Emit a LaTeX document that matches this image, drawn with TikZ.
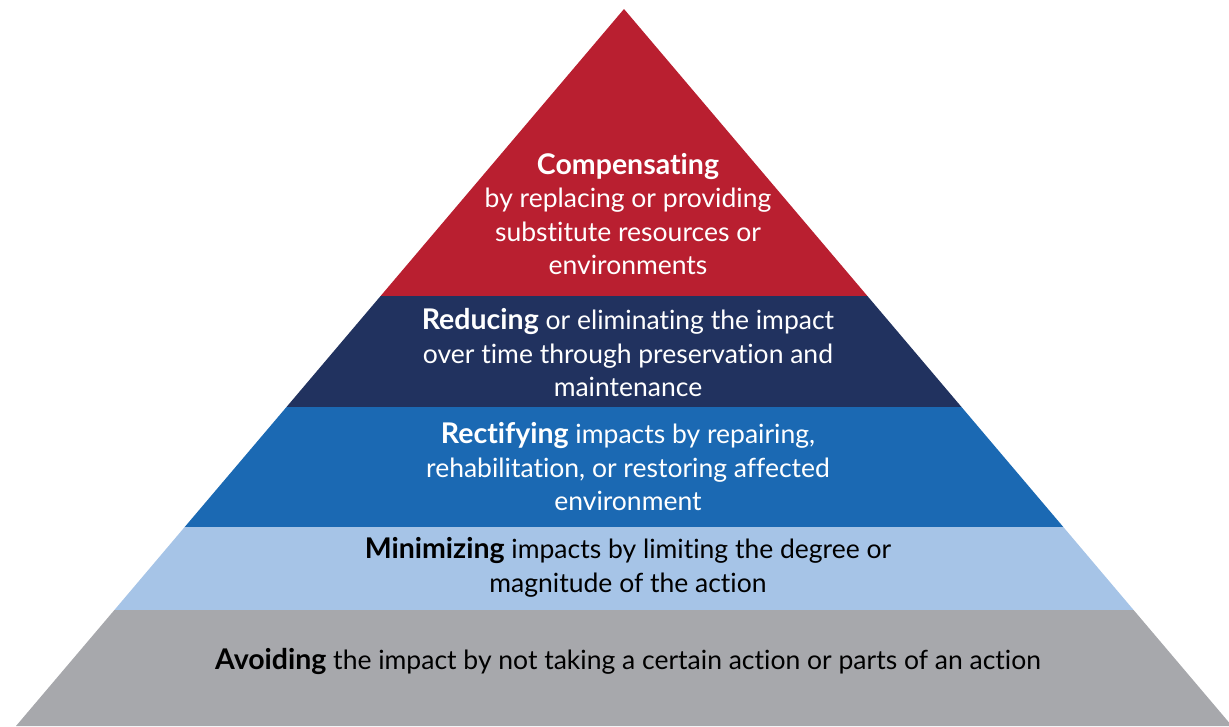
\documentclass[tikz,border=0pt]{standalone}
\usepackage{fontspec}
\setmainfont[Ligatures={NoCommon}]{Lato}
\newcommand{\hd}[1]{{\fontsize{28.5}{33.5}\selectfont\bfseries #1}}
\definecolor{cred}{HTML}{B91F30}
\definecolor{cnavy}{HTML}{21325F}
\definecolor{cblue}{HTML}{1B69B3}
\definecolor{clight}{HTML}{A6C4E7}
\definecolor{cgray}{HTML}{A7A8AC}
\begin{document}
\begin{tikzpicture}[x=1pt,y=-1pt,
  label/.style={align=center,font=\fontsize{26.5}{33.5}\selectfont,inner sep=0pt},
  lw/.style={label,text=white},
  lb/.style={label,text=black}]
\useasboundingbox (0,0) rectangle (1229,726);
\clip (0,0) rectangle (1229,726);
\coordinate (apex) at (624,9);
\coordinate (l1) at (380.6,296); \coordinate (r1) at (867.4,296);
\coordinate (l2) at (286.5,407); \coordinate (r2) at (961.5,407);
\coordinate (l3) at (184.7,527); \coordinate (r3) at (1063.3,527);
\coordinate (l4) at (114.4,610); \coordinate (r4) at (1133.6,610);
\coordinate (l5) at (16,726);    \coordinate (r5) at (1232,726);
\fill[cred] (apex) -- (r1) -- (l1) -- cycle;
\fill[cnavy] (l1) -- (r1) -- (r2) -- (l2) -- cycle;
\fill[cblue] (l2) -- (r2) -- (r3) -- (l3) -- cycle;
\fill[clight] (l3) -- (r3) -- (r4) -- (l4) -- cycle;
\fill[cgray] (l4) -- (r4) -- (r5) -- (l5) -- cycle;
\node[lw] (t1) at (628,214) {\hd{Compensating}\\by replacing or providing\\substitute resources or\\environments};
\node[lw] (t2) at (628,353) {\hd{Reducing} or eliminating the impact\\over time through preservation and\\maintenance};
\node[lw] (t3) at (628,467) {\hd{Rectifying} impacts by repairing,\\rehabilitation, or restoring affected\\environment};
\node[lb] (t4) at (628,567.5) {\hd{Minimizing} impacts by limiting the degree or\\magnitude of the action};
\node[lb] (t5) at (628,661) {\hd{Avoiding} the impact by not taking a certain action or parts of an action};
\end{tikzpicture}
\end{document}
